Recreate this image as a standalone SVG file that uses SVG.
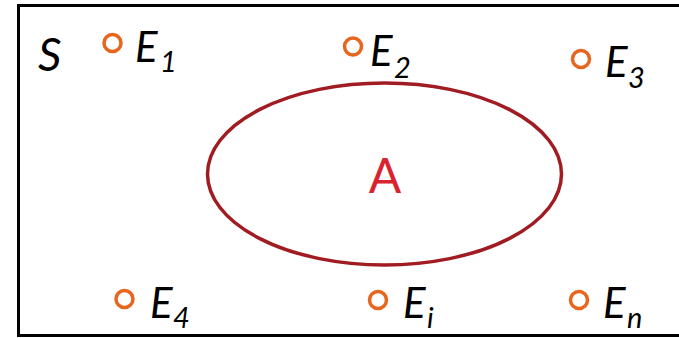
<svg xmlns="http://www.w3.org/2000/svg" width="679" height="338" viewBox="0 0 679 338">
<style>
.pt{fill:none;stroke:#e8651e;stroke-width:3.5}
.lab{font-family:Lato,"DejaVu Sans",sans-serif;font-style:italic;fill:#000}
.big{font-size:42px}
.sub{font-size:29px}
</style>
<rect x="18.5" y="5.5" width="700" height="330" fill="#fff" stroke="#000" stroke-width="3"/>
<text class="lab" x="38" y="71" font-size="46">S</text>
<g id="A">
<ellipse cx="384.5" cy="174" rx="177" ry="91" fill="none" stroke="#a01c22" stroke-width="3.5"/>
<text x="385" y="193" font-family="Lato,'DejaVu Sans',sans-serif" font-size="48" fill="#d9232e" text-anchor="middle">A</text>
</g>
<g id="E1"><circle class="pt" cx="112.5" cy="43" r="8.5"/><text class="lab big" x="135" y="62">E</text><text class="lab sub" x="160" y="72">1</text></g>
<g id="E2"><circle class="pt" cx="353" cy="46.5" r="8.5"/><text class="lab big" x="370" y="66">E</text><text class="lab sub" x="394" y="78">2</text></g>
<g id="E3"><circle class="pt" cx="581" cy="59" r="8.5"/><text class="lab big" x="605" y="77">E</text><text class="lab sub" x="628" y="88">3</text></g>
<g id="E4"><circle class="pt" cx="124.5" cy="299" r="8.5"/><text class="lab big" x="150" y="318">E</text><text class="lab sub" x="173" y="328">4</text></g>
<g id="Ei"><circle class="pt" cx="378" cy="300" r="8.5"/><text class="lab big" x="403" y="318">E</text><text class="lab sub" x="427" y="328">i</text></g>
<g id="En"><circle class="pt" cx="579" cy="300" r="8.5"/><text class="lab big" x="603" y="318">E</text><text class="lab sub" x="627" y="328">n</text></g>
<g id="connectors"></g>
</svg>
